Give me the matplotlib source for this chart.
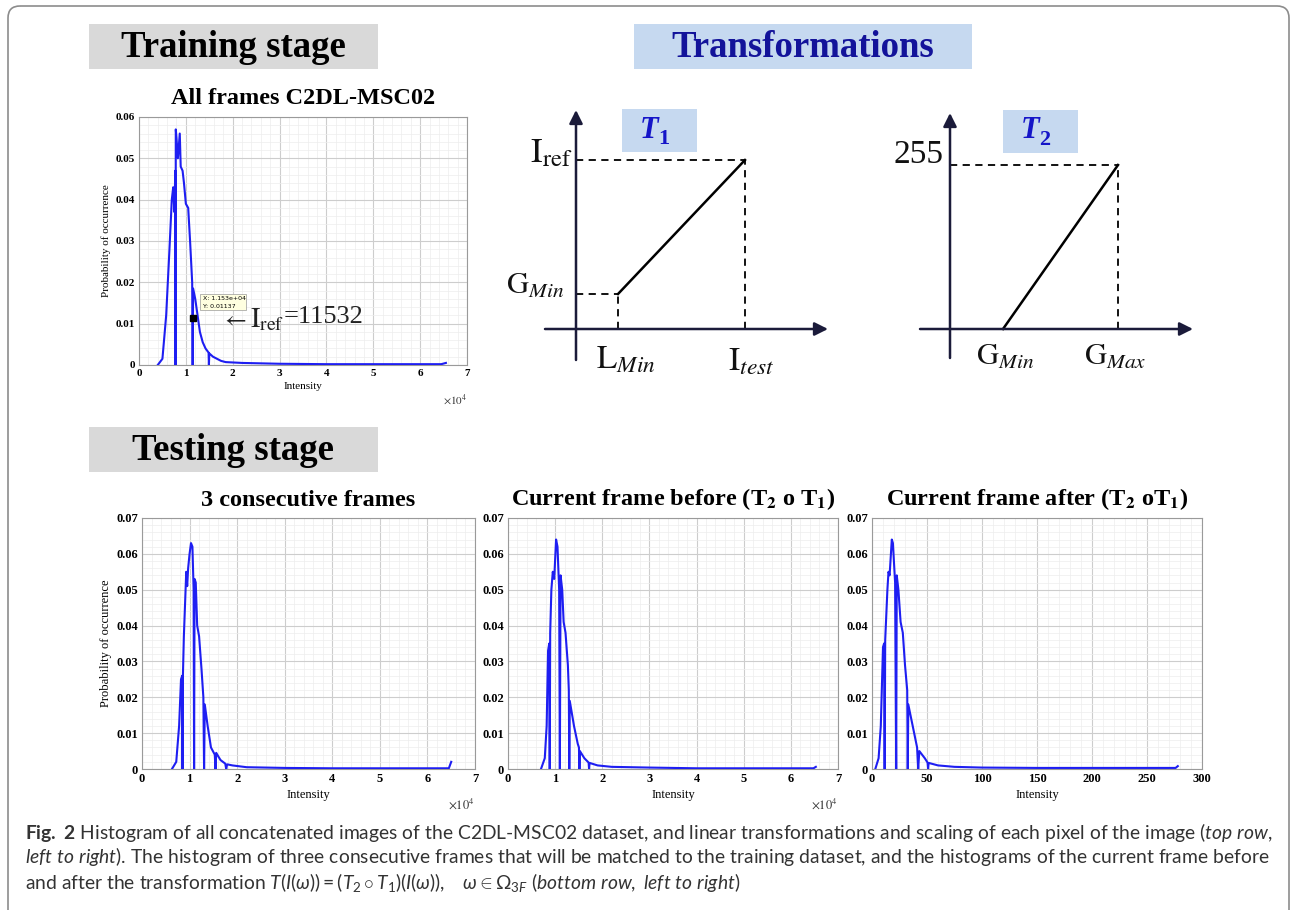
import numpy as np
import matplotlib
matplotlib.use("Agg")
import matplotlib.pyplot as plt
from matplotlib.patches import Rectangle, FancyBboxPatch
from matplotlib.ticker import MultipleLocator

W, H = 1294, 910
SERIF = "Liberation Serif"
BLUE = "#1e1ef2"
AXIS_DARK = "#1b1b3a"
BOX_BLUE = "#c6d9f0"
BOX_GRAY = "#d9d9d9"

plt.rcParams["mathtext.fontset"] = "custom"
plt.rcParams["mathtext.rm"] = "Lato"
plt.rcParams["mathtext.it"] = "Lato:italic"
plt.rcParams["mathtext.bf"] = "Lato:bold"

# ---- histogram data -------------------------------------------------------
# All frames C2DL-MSC02, intensity in units of 1e4
all_x = [0.40, 0.50, 0.58, 0.65, 0.70, 0.73, 0.755, 0.775, 0.780, 0.785,
         0.80, 0.83, 0.87, 0.89, 0.93, 0.96, 1.00, 1.05, 1.09, 1.135,
         1.145, 1.155, 1.20, 1.25, 1.30, 1.36, 1.42, 1.485, 1.492, 1.50,
         1.58, 1.75, 1.85, 2.20, 3.00, 4.00, 5.00, 6.45, 6.55]
all_y = [0.0, 0.0015, 0.012, 0.028, 0.040, 0.043, 0.037, 0.047, 0.0, 0.057,
         0.055, 0.050, 0.056, 0.048, 0.047, 0.044, 0.039, 0.038, 0.030, 0.020,
         0.0, 0.0185, 0.016, 0.012, 0.008, 0.0055, 0.004, 0.003, 0.0, 0.0028,
         0.002, 0.001, 0.0007, 0.0005, 0.0003, 0.0002, 0.0002, 0.0002, 0.0005]

# 3 consecutive frames
three_x = [0.63, 0.72, 0.78, 0.82, 0.845, 0.852, 0.86, 0.88, 0.93, 0.95,
           0.97, 1.00, 1.03, 1.06, 1.085, 1.095, 1.105, 1.13, 1.16, 1.20,
           1.25, 1.29, 1.305, 1.32, 1.38, 1.45, 1.53, 1.545, 1.56, 1.65,
           1.75, 1.77, 1.79, 1.90, 2.20, 3.00, 4.00, 5.00, 6.45, 6.50]
three_y = [0.0, 0.002, 0.012, 0.025, 0.026, 0.0, 0.026, 0.037, 0.055, 0.051,
           0.056, 0.060, 0.063, 0.062, 0.050, 0.0, 0.053, 0.052, 0.040, 0.037,
           0.028, 0.020, 0.0, 0.018, 0.012, 0.006, 0.004, 0.0, 0.0045, 0.0025,
           0.0015, 0.0, 0.0013, 0.001, 0.0005, 0.0003, 0.0002, 0.0002, 0.0002, 0.002]

# current frame before (T2 o T1)
before_x = [0.70, 0.78, 0.82, 0.85, 0.875, 0.885, 0.895, 0.92, 0.95, 0.98,
            1.02, 1.05, 1.085, 1.10, 1.115, 1.15, 1.18, 1.22, 1.27, 1.29,
            1.30, 1.31, 1.40, 1.48, 1.505, 1.515, 1.525, 1.62, 1.71, 1.72,
            1.73, 1.90, 2.20, 3.00, 4.00, 5.00, 6.48, 6.53]
before_y = [0.0, 0.003, 0.012, 0.033, 0.035, 0.0, 0.038, 0.050, 0.055, 0.053,
            0.064, 0.062, 0.050, 0.0, 0.054, 0.050, 0.041, 0.038, 0.029, 0.022,
            0.0, 0.019, 0.012, 0.007, 0.006, 0.0, 0.005, 0.003, 0.0018, 0.0,
            0.0017, 0.001, 0.0006, 0.0004, 0.0002, 0.0002, 0.0002, 0.0006]

# current frame after (T2 o T1), 8-bit intensity
after_x = [3, 6, 8, 10, 11, 11.5, 12, 14, 15, 16,
           18, 19, 21, 22, 22.5, 24, 26, 28, 30, 32,
           32.5, 33, 37, 41, 42, 43, 48, 50.5, 51, 51.5,
           60, 75, 100, 150, 200, 250, 276, 278]
after_y = [0.0, 0.003, 0.012, 0.034, 0.035, 0.0, 0.036, 0.050, 0.055, 0.054,
           0.064, 0.063, 0.052, 0.0, 0.054, 0.050, 0.041, 0.038, 0.029, 0.022,
           0.0, 0.018, 0.012, 0.006, 0.0, 0.005, 0.003, 0.0018, 0.0, 0.0017,
           0.001, 0.0006, 0.0004, 0.0003, 0.0003, 0.0003, 0.0003, 0.0008]

datatip = (1.153, 0.01137)

# ---- transformation sketches (schematic units) -----------------------------
t1_x = [42, 169]    # L_Min, I_test
t1_y = [35, 169]    # G_Min, I_ref
t2_x = [53, 168]    # G_Min, G_Max
t2_y = [0, 164]     # 0, 255

caption = [
    r"$\mathbf{Fig.\ 2}$ Histogram of all concatenated images of the C2DL-MSC02 dataset, "
    r"and linear transformations and scaling of each pixel of the image ($\mathit{top\ row,}$",
    r"$\mathit{left\ to\ right}$). The histogram of three consecutive frames that will be "
    r"matched to the training dataset, and the histograms of the current frame before",
    r"and after the transformation $T(I(\omega)) = (T_2 \circ T_1)(I(\omega)),\quad "
    r"\omega \in \Omega_{3F}$ ($\mathit{bottom\ row,\ left\ to\ right}$)",
]


def px_rect(x0, y0, x1, y1):
    return [x0 / W, 1 - y1 / H, (x1 - x0) / W, (y1 - y0) / H]


fig = plt.figure(figsize=(W / 100, H / 100), dpi=100)
fig.patch.set_facecolor("white")

bg = fig.add_axes([0, 0, 1, 1], zorder=0)
bg.set_xlim(0, W)
bg.set_ylim(H, 0)
bg.axis("off")

bg.add_patch(FancyBboxPatch((8, 6), 1281, 930, boxstyle="round,pad=0,rounding_size=12",
                            fc="none", ec="#8c8c8c", lw=1.2))
for (x0, y0, w, h, fc, txt, col, fs) in [
        (89, 24, 289, 45, BOX_GRAY, "Training stage", "black", 26.5),
        (634, 24, 338, 45, BOX_BLUE, "Transformations", "#13139a", 26.5),
        (89, 427, 289, 45, BOX_GRAY, "Testing stage", "black", 26.5)]:
    bg.add_patch(Rectangle((x0, y0), w, h, fc=fc, ec="none"))
    bg.text(x0 + w / 2, y0 + h / 2 + 1, txt, ha="center", va="center", family=SERIF,
            fontweight="bold", fontsize=fs, color=col)

for i, line in enumerate(caption):
    bg.text(25, 832 + 25 * i, line, family="Lato", fontsize=13.9, color="#333333",
            va="center", ha="left")


def histogram(rect, x, y, xmax, xstep, xminor, ymax, title, tick_fs, ylabel, sci):
    ax = fig.add_axes(px_rect(*rect), zorder=2)
    ax.plot(x, y, color=BLUE, lw=1.5, zorder=3)
    ax.set_xlim(0, xmax)
    ax.set_ylim(0, ymax)
    xt = np.arange(0, xmax + xstep / 2, xstep)
    ax.set_xticks(xt)
    ax.set_xticklabels([f"{v:g}" for v in xt])
    yt = np.round(np.arange(0, ymax + 0.005, 0.01), 2)
    ax.set_yticks(yt)
    ax.set_yticklabels(["0"] + [f"{v:.2f}" for v in yt[1:]])
    ax.xaxis.set_minor_locator(MultipleLocator(xminor))
    ax.yaxis.set_minor_locator(MultipleLocator(0.002))
    ax.set_axisbelow(True)
    ax.grid(which="major", color="#cdcdcd", lw=0.8)
    ax.grid(which="minor", color="#ededed", lw=0.5)
    ax.tick_params(which="both", length=0, labelsize=tick_fs, pad=3)
    for lab in ax.get_xticklabels() + ax.get_yticklabels():
        lab.set_family(SERIF)
        lab.set_fontweight("bold")
    for s in ax.spines.values():
        s.set_color("#9a9a9a")
        s.set_linewidth(0.8)
    ax.set_xlabel("Intensity", family=SERIF, fontsize=tick_fs, labelpad=3)
    if ylabel:
        ax.set_ylabel("Probability of occurrence", family=SERIF, fontsize=tick_fs,
                      labelpad=3)
    ax.set_title(title, family=SERIF, fontweight="bold", fontsize=17.5, pad=9,
                 math_fontfamily="stix")
    if sci:
        ax.text(1.0, -0.11, r"$\times10^{4}$", transform=ax.transAxes, ha="right",
                va="top", fontsize=tick_fs, math_fontfamily="stix", color="#333333")
    return ax


ax_all = histogram((139, 117, 467, 365), all_x, all_y, 7, 1, 0.2, 0.06,
                   "All frames C2DL-MSC02", 8, True, True)
ax_all.plot(*datatip, marker="s", ms=4, color="black", zorder=5)
ax_all.add_patch(Rectangle((1.31, 0.0132), 0.98, 0.0039, fc="#ffffe0", ec="#9a9a9a",
                           lw=0.5, zorder=4))
ax_all.text(1.36, 0.0161, "X: 1.153e+04", fontsize=4.5, va="center", zorder=5)
ax_all.text(1.36, 0.0142, f"Y: {datatip[1]}", fontsize=4.5, va="center", zorder=5)
ax_all.text(1.76, 0.0112, r"$\leftarrow$", fontsize=17, va="center", zorder=5,
            math_fontfamily="stix", color="#222222")
ax_all.text(2.36, 0.0110, r"$\mathrm{I}_{\mathrm{ref}}$", fontsize=20, va="center",
            zorder=5, math_fontfamily="stix", color="#222222")
ax_all.text(3.08, 0.0117, "=11532", fontsize=19, va="center", family=SERIF, zorder=5,
            color="#222222")

histogram((142, 518, 475, 769), three_x, three_y, 7, 1, 0.2, 0.07,
          "3 consecutive frames", 9, True, True)
histogram((508, 518, 838, 769), before_x, before_y, 7, 1, 0.2, 0.07,
          r"Current frame before (T$_\mathbf{2}$ o T$_\mathbf{1}$)", 9, False, True)
histogram((872, 518, 1202, 769), after_x, after_y, 300, 50, 10, 0.07,
          r"Current frame after (T$_\mathbf{2}$ oT$_\mathbf{1}$)", 9, False, False)


def sketch_axes(x0, y0, x1, y1, ox, oy):
    ax = fig.add_axes(px_rect(x0, y0, x1, y1), zorder=1)
    ax.set_xlim(x0 - ox, x1 - ox)
    ax.set_ylim(oy - y1, oy - y0)
    ax.axis("off")
    return ax


def draw_axes_arrows(ax, xmin, xmax, ymin, ymax):
    style = dict(arrowstyle="-|>", color=AXIS_DARK, lw=1.8, mutation_scale=20,
                 shrinkA=0, shrinkB=0)
    ax.annotate("", xy=(xmax, 0), xytext=(xmin, 0), arrowprops=style)
    ax.annotate("", xy=(0, ymax), xytext=(0, ymin), arrowprops=style)


def box_label(ax, x, y, sub):
    ax.add_patch(Rectangle((x, y), 75, 43, fc=BOX_BLUE, ec="none"))
    ax.text(x + 27, y + 22, "T", family=SERIF, fontweight="bold", fontstyle="italic",
            fontsize=22, color="#1515c8", ha="center", va="center")
    ax.text(x + 42, y + 13, sub, family=SERIF, fontweight="bold", fontsize=16,
            color="#1515c8", ha="center", va="center")


dash = dict(color="black", lw=1.3, ls=(0, (4, 3)))

# T1 sketch
t1 = sketch_axes(480, 95, 860, 395, 576, 329)
draw_axes_arrows(t1, -31, 252, -31, 219)
t1.plot(t1_x, t1_y, color="black", lw=1.8)
t1.plot([0, t1_x[1]], [t1_y[1], t1_y[1]], **dash)
t1.plot([t1_x[1], t1_x[1]], [0, t1_y[1]], **dash)
t1.plot([0, t1_x[0]], [t1_y[0], t1_y[0]], **dash)
t1.plot([t1_x[0], t1_x[0]], [0, t1_y[0]], **dash)
box_label(t1, 46, 177, "1")
sk = dict(math_fontfamily="stix", color="#111111")
t1.text(-4, t1_y[1] + 8, r"$\mathrm{I}_{\mathrm{ref}}$", fontsize=25, ha="right",
        va="center", **sk)
t1.text(-12, t1_y[0] + 8, r"$\mathrm{G}_{Min}$", fontsize=22, ha="right", va="center", **sk)
t1.text(t1_x[0] + 8, -30, r"$\mathrm{L}_{Min}$", fontsize=24, ha="center", va="center", **sk)
t1.text(t1_x[1] + 6, -32, r"$\mathrm{I}_{test}$", fontsize=24, ha="center", va="center", **sk)

# T2 sketch
t2 = sketch_axes(870, 95, 1230, 395, 950, 329)
draw_axes_arrows(t2, -30, 243, -29, 216)
t2.plot(t2_x, t2_y, color="black", lw=1.8)
t2.plot([0, t2_x[1]], [t2_y[1], t2_y[1]], **dash)
t2.plot([t2_x[1], t2_x[1]], [0, t2_y[1]], **dash)
box_label(t2, 53, 176, "2")
t2.text(-6, t2_y[1] + 10, "255", family=SERIF, fontsize=24, ha="right", va="center",
        color="#111111")
t2.text(t2_x[0] + 2, -28, r"$\mathrm{G}_{Min}$", fontsize=22, ha="center", va="center", **sk)
t2.text(t2_x[1] - 3, -28, r"$\mathrm{G}_{Max}$", fontsize=22, ha="center", va="center", **sk)

fig.savefig("out.png", dpi=100)
